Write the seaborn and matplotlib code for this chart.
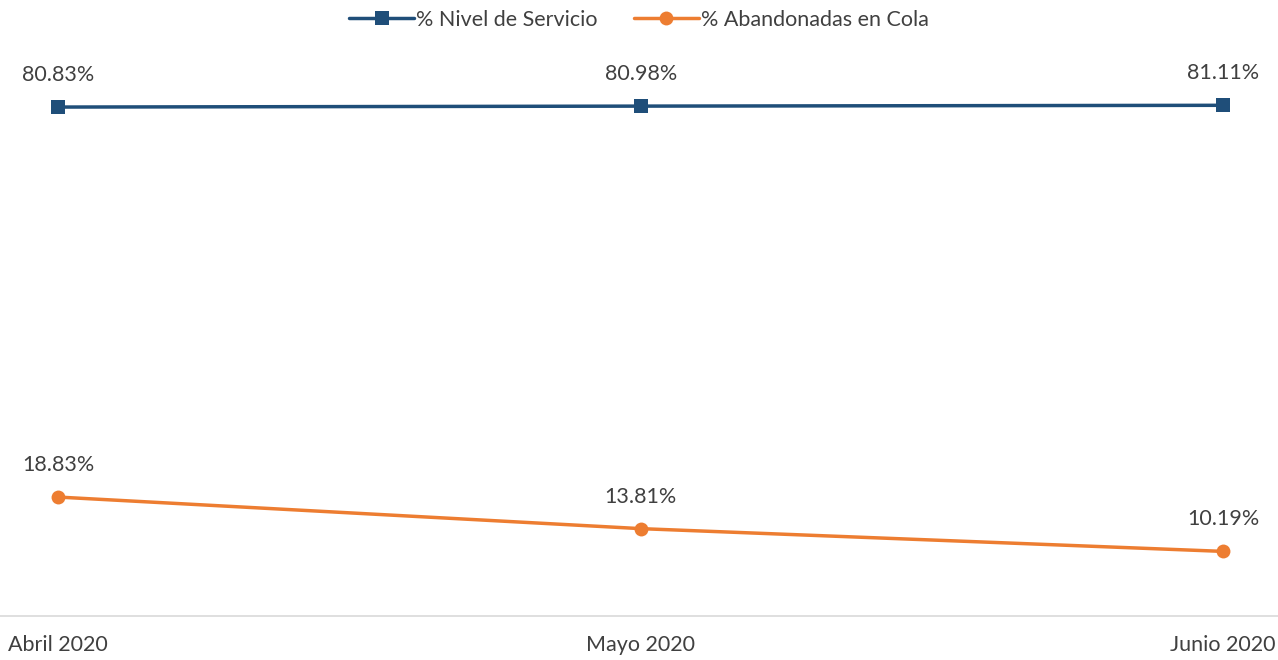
import pandas as pd
import matplotlib.pyplot as plt
import seaborn as sns

# --- Data ---
MONTHS = ['Abril 2020', 'Mayo 2020', 'Junio 2020']
NIVEL_SERVICIO = [80.83, 80.98, 81.11]
ABANDONADAS = [18.83, 13.81, 10.19]
SERIES = ['% Nivel de Servicio', '% Abandonadas en Cola']
COLORS = ['#1F4E79', '#ED7D31']

df = pd.DataFrame({
    'Mes': MONTHS * 2,
    'x': list(range(len(MONTHS))) * 2,
    'Serie': [SERIES[0]] * len(MONTHS) + [SERIES[1]] * len(MONTHS),
    'Valor': NIVEL_SERVICIO + ABANDONADAS,
})

sns.set_style('white')
plt.rcParams['font.family'] = ['Lato', 'DejaVu Sans']
FS = 15.5

fig = plt.figure(figsize=(12.78, 6.6), dpi=100)
ax = fig.add_axes([0, 44.5 / 660, 1, 615.5 / 660])

sns.lineplot(data=df, x='x', y='Valor', hue='Serie', style='Serie',
             markers={SERIES[0]: 's', SERIES[1]: 'o'}, dashes=False,
             palette=dict(zip(SERIES, COLORS)), linewidth=2.5,
             markersize=10, markeredgewidth=0, ax=ax, legend=True)

# data labels
for vals in (NIVEL_SERVICIO, ABANDONADAS):
    for i, v in enumerate(vals):
        ax.annotate(f'{v:.2f}%', (i, v), xytext=(0, 23), textcoords='offset points',
                    ha='center', va='center', fontsize=FS, color='#404040')

ax.set_xlim(-0.0996, 2.094)
ax.set_ylim(0, 97.85)
ax.set_xticks(range(len(MONTHS)))
ax.set_xticklabels(MONTHS)
ax.set_yticks([])
ax.set_xlabel('')
ax.set_ylabel('')
ax.tick_params(axis='x', length=0, pad=14, labelsize=FS, labelcolor='#404040')
for side in ['top', 'left', 'right']:
    ax.spines[side].set_visible(False)
ax.spines['bottom'].set_color('#D9D9D9')
ax.spines['bottom'].set_linewidth(1.2)

handles, labels = ax.get_legend_handles_labels()
for h in handles:
    h.set_linewidth(2.5)
    h.set_markersize(10)
ax.legend(handles, labels, loc='upper center', bbox_to_anchor=(0.5, 1.0),
          ncol=2, frameon=False, fontsize=FS, handlelength=3.0,
          handletextpad=0.1, columnspacing=1.7, labelcolor='#404040',
          borderaxespad=0.05)

fig.savefig('out.png', dpi=100)
